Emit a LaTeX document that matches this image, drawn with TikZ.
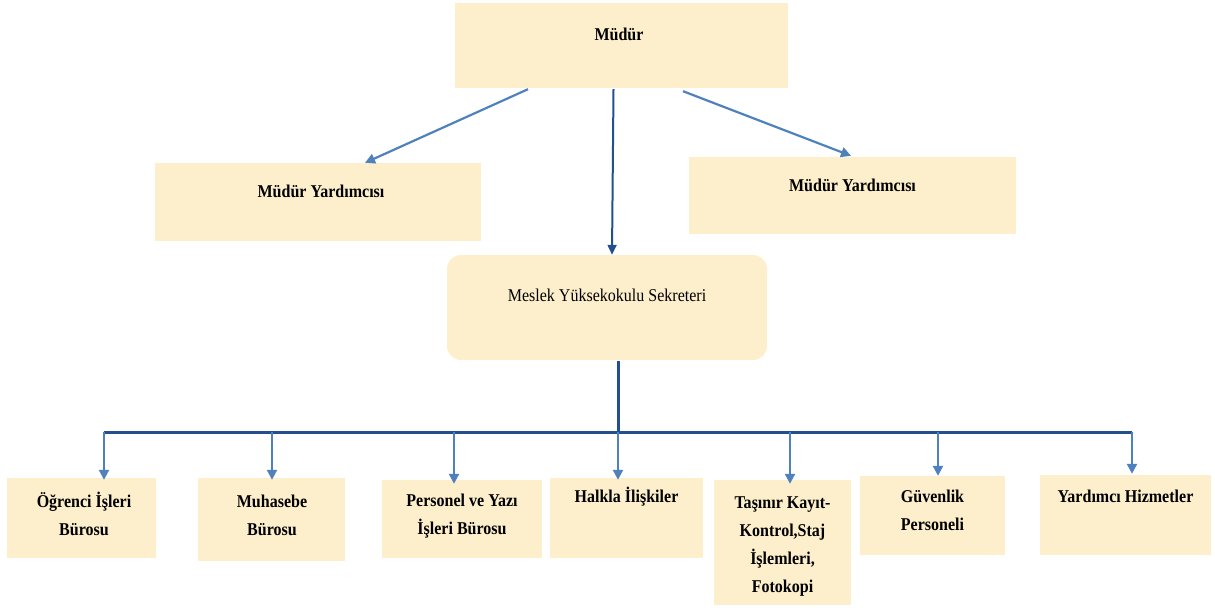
\documentclass[tikz,border=0pt]{standalone}
\usepackage{fontspec}
\setmainfont{Liberation Serif}[FakeStretch=0.89]
\usetikzlibrary{arrows.meta,calc}
\definecolor{boxfill}{HTML}{FDEFCB}
\definecolor{lblue}{HTML}{4F81BD}
\definecolor{dblue}{HTML}{22508F}
\tikzset{
  box/.style={draw=none,fill=boxfill,inner sep=0pt,minimum width=#1},
  txt/.style={anchor=base,inner sep=0pt,align=center,font=\fontsize{18}{28}\selectfont\bfseries},
  ltxt/.style={anchor=base,inner sep=0pt,align=center,font=\fontsize{18}{28}\selectfont},
  larr/.style={draw=lblue,line width=2.2pt,-{Triangle[length=10pt,width=10pt]}},
  darr/.style={draw=dblue,line width=2pt,-{Triangle[length=10pt,width=9pt]}},
  dline/.style={draw=dblue,line width=3pt},
}
\begin{document}
\begin{tikzpicture}[x=1pt,y=-1pt]
\useasboundingbox (0,0) rectangle (1215,610);
% top level
\node[box=333pt,minimum height=85pt] (m) at (621.5,45.5) {};
\node[txt] (mt) at (619,41) {Müdür};
\node[box=326pt,minimum height=78pt] (y1) at (318,202) {};
\node[txt] (y1t) at (321,197) {Müdür Yardımcısı};
\node[box=327pt,minimum height=77pt] (y2) at (852.5,195.5) {};
\node[txt] (y2t) at (852.5,191) {Müdür Yardımcısı};
\node[box=320pt,minimum height=105pt,rounded corners=14pt] (s) at (607,307.5) {};
\node[ltxt] (st) at (607,301) {Meslek Yüksekokulu Sekreteri};
% bottom boxes
\node[box=149pt,minimum height=80pt] (b1) at (81.5,518) {};
\node[txt] (b1t) at (84,535) {Öğrenci İşleri\\Bürosu};
\node[box=147pt,minimum height=83pt] (b2) at (271.5,519.5) {};
\node[txt] (b2t) at (272,535) {Muhasebe\\Bürosu};
\node[box=160pt,minimum height=78pt] (b3) at (462,519) {};
\node[txt] (b3t) at (462,534) {Personel ve Yazı\\İşleri Bürosu};
\node[box=153pt,minimum height=80pt] (b4) at (626.5,518) {};
\node[txt] (b4t) at (626.5,502) {Halkla İlişkiler};
\node[box=137pt,minimum height=125pt] (b5) at (782.5,542.5) {};
\node[txt] (b5t) at (782.5,592) {Taşınır Kayıt-\\Kontrol,Staj\\İşlemleri,\\Fotokopi};
\node[box=145pt,minimum height=79pt] (b6) at (932.5,515.5) {};
\node[txt] (b6t) at (932.5,530) {Güvenlik\\Personeli};
\node[box=171pt,minimum height=80pt] (b7) at (1125.5,515) {};
\node[txt] (b7t) at (1125.5,502) {Yardımcı Hizmetler};
% connectors from Müdür
\draw[larr] ([xshift=-93.5pt,yshift=-1pt]m.south) -- ([xshift=47pt]y1.north);
\draw[larr] ([xshift=61.5pt,yshift=-3pt]m.south) -- ([xshift=-1.5pt,yshift=1pt]y2.north);
\draw[darr] ([xshift=-8pt,yshift=-1pt]m.south) -- ([xshift=5pt]s.north);
% bus
\coordinate (bus) at (618,432);
\draw[dline] ([xshift=11pt,yshift=-1pt]s.south) -- (bus);
\draw[dline] ([xshift=22.5pt]b1.north |- bus) -- ([xshift=6.5pt]b7.north |- bus);
\draw[larr] ([xshift=22.5pt]b1.north |- bus) -- ([xshift=22.5pt,yshift=-2pt]b1.north);
\draw[larr] ([xshift=0.5pt]b2.north |- bus) -- ([xshift=0.5pt,yshift=-2pt]b2.north);
\draw[larr] ([xshift=-8pt]b3.north |- bus) -- ([xshift=-8pt,yshift=-4pt]b3.north);
\draw[larr] ([xshift=-8.5pt]b4.north |- bus) -- ([xshift=-8.5pt,yshift=-2pt]b4.north);
\draw[larr] ([xshift=7.5pt]b5.north |- bus) -- ([xshift=7.5pt,yshift=-4pt]b5.north);
\draw[larr] ([xshift=5.5pt]b6.north |- bus) -- ([xshift=5.5pt,yshift=0pt]b6.north);
\draw[larr] ([xshift=6.5pt]b7.north |- bus) -- ([xshift=6.5pt,yshift=1pt]b7.north);
\end{tikzpicture}
\end{document}
